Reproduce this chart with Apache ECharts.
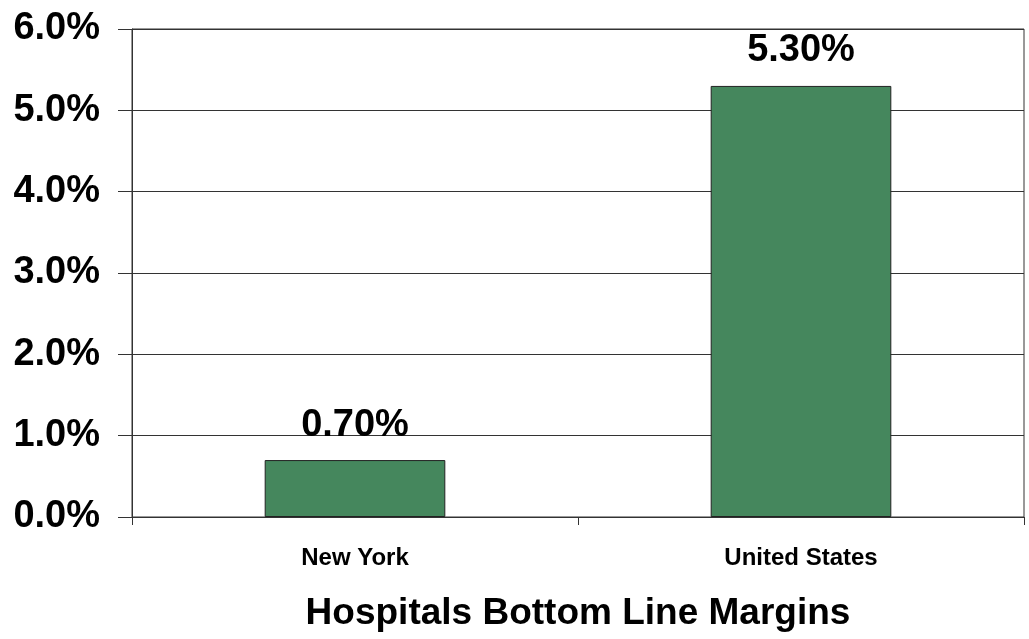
<!DOCTYPE html>
<html>
<head>
<meta charset="utf-8">
<script src="https://cdn.jsdelivr.net/npm/echarts@6/dist/echarts.min.js"></script>
<style>html,body{margin:0;padding:0;background:#fff}#c{width:1029px;height:639px}</style>
</head>
<body>
<div id="c"></div>
<script>
const categories = ['New York', 'United States'];
const margins = [0.70, 5.30];
const yTicks = [0, 1, 2, 3, 4, 5, 6];
const chartTitle = 'Hospitals Bottom Line Margins';

const chart = echarts.init(document.getElementById('c'), null, {renderer: 'canvas'});
const font = '"Liberation Sans", Arial, sans-serif';
chart.setOption({
  backgroundColor: '#fff',
  animation: false,
  grid: {left: 132, right: 5, top: 29, bottom: 122, containLabel: false, outerBoundsMode: 'none',
    show: true, borderColor: '#333', borderWidth: 1, backgroundColor: 'transparent'},
  xAxis: {
    type: 'category',
    data: categories,
    name: chartTitle,
    nameLocation: 'middle',
    nameGap: 78,
    nameTextStyle: {fontFamily: font, fontWeight: 'bold', fontSize: 37, color: '#000'},
    axisLine: {lineStyle: {color: '#333', width: 1}},
    axisTick: {show: true, length: 8, lineStyle: {color: '#333'}},
    axisLabel: {fontFamily: font, fontWeight: 'bold', fontSize: 24, color: '#000', margin: 29}
  },
  yAxis: {
    type: 'value',
    min: yTicks[0],
    max: yTicks[yTicks.length - 1],
    interval: 1,
    axisLine: {show: true, lineStyle: {color: '#333', width: 1}},
    axisTick: {show: true, length: 14, lineStyle: {color: '#333'}},
    splitLine: {show: true, lineStyle: {color: '#333', width: 1}},
    axisLabel: {fontFamily: font, fontWeight: 'bold', fontSize: 38, color: '#000', margin: 32,
      formatter: v => v.toFixed(1) + '%'}
  },
  series: [{
    type: 'bar',
    data: margins,
    barWidth: '40.5%',
    itemStyle: {color: '#45875d', borderColor: '#222', borderWidth: 1},
    label: {show: true, position: 'top', distance: 16, fontFamily: font, fontWeight: 'bold', fontSize: 38, color: '#000',
      formatter: p => p.value.toFixed(2) + '%'}
  }]
});
</script>
</body>
</html>
